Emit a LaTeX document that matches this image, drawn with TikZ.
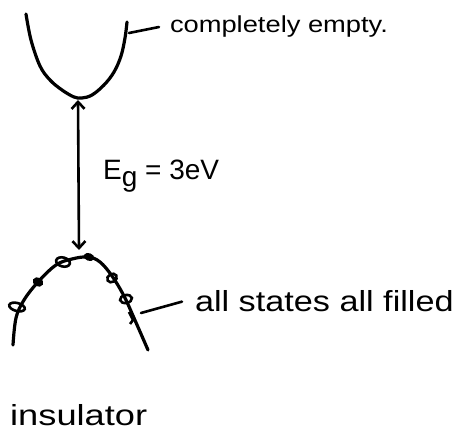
\documentclass[tikz,border=0pt]{standalone}
\usepackage{graphicx}
\usepackage{fontspec}
\setmainfont{Liberation Sans}
\usetikzlibrary{arrows.meta}
\tikzset{gaptip/.tip={Straight Barb[length=7pt,width=13pt,line width=2.6pt]}}
\begin{document}
\begin{tikzpicture}[x=1pt,y=-1pt,
  band/.style={line width=3.2pt,line cap=round,line join=round},
  lead/.style={line width=2.6pt,line cap=round},
  elec/.style={line width=2.6pt},
  lbl/.style={inner sep=0pt,anchor=base west}]
\useasboundingbox (0,0) rectangle (458,430);
% conduction band
\draw[band] plot[smooth,tension=0.6] coordinates {(26,14) (31,40) (40,66) (50,80) (62,90) (74,97) (82,98) (92,95) (104,85) (114,72) (121,56) (125,38) (127,22)};
% valence band
\draw[band] plot[smooth,tension=0.6] coordinates {(13,345) (16,318) (24,300) (38,282) (56,265) (72,259) (88,257) (100,262) (112,276) (124,296) (134,318) (148,350)};
% electrons
\draw[elec,rotate around={-15:(17,307)}] (17,307) ellipse [x radius=8,y radius=4];
\fill[rotate around={-30:(38,282)}] (38,282) ellipse [x radius=5.5,y radius=4.5];
\draw[elec,rotate around={-15:(63,262)}] (63,262) ellipse [x radius=7,y radius=4.5];
\draw[elec,rotate around={-20:(89,257)}] (89,257) ellipse [x radius=4,y radius=2.5];
\draw[elec,rotate around={30:(112,278)}] (112,278) ellipse [x radius=5,y radius=4];
\draw[elec,rotate around={10:(126,299)}] (126,299) ellipse [x radius=6,y radius=4];
\draw[elec] (129,312) -- (133,320) -- (130,324);
% gap arrow
\coordinate (cb) at (78,100);
\coordinate (vb) at (79,250);
\draw[lead,gaptip-gaptip] (cb) -- (vb);
% labels
\node[lbl] (eg) at (103,180) {\fontsize{28}{28}\selectfont E\raisebox{-0.25em}{\fontsize{28}{28}\selectfont g} = 3eV};
\node[lbl,outer xsep=11pt] (ce) at (159,33) {\fontsize{21}{21}\selectfont\scalebox{1.3}[1.1]{completely empty.}};
\coordinate (ceS) at (129,33);
\draw[lead] (ceS) -- (ce.west);
\node[lbl,outer xsep=13pt] (af) at (182,312) {\fontsize{29}{29}\selectfont\scalebox{1.18}[1]{all states all filled}};
\coordinate (afS) at (141,313);
\draw[lead] (afS) -- (af.west);
\node[lbl] (ins) at (10,425) {\fontsize{29}{29}\selectfont\scalebox{1.25}[1]{insulator}};
\end{tikzpicture}
\end{document}
